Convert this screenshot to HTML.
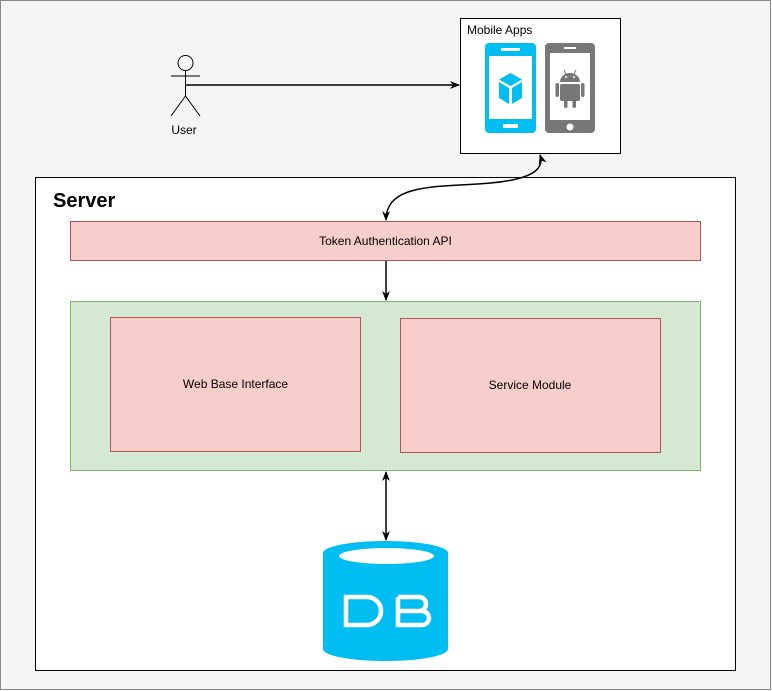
<!DOCTYPE html>
<html><head><style>body{margin:0}svg{display:block}text{font-family:"Liberation Sans",sans-serif}</style></head><body>
<svg width="772" height="691" viewBox="0 0 772 691" xmlns="http://www.w3.org/2000/svg">
<defs><marker id="a" markerWidth="10" markerHeight="8" refX="9" refY="4" orient="auto-start-reverse" markerUnits="userSpaceOnUse"><path d="M0,0 L10,4 L0,8 L3,4 Z" fill="#000"/></marker></defs>
<rect x="0.5" y="0.5" width="770" height="689" fill="#f4f4f4" stroke="#888"/>
<rect x="35.5" y="177.5" width="700" height="493" fill="#fff" stroke="#000"/>
<text x="53" y="207" font-size="20" font-weight="bold">Server</text>
<rect x="460.5" y="18.5" width="160" height="135" fill="#fff" stroke="#000"/>
<text x="467" y="34" font-size="12">Mobile Apps</text>
<rect x="485" y="43" width="51" height="90" rx="4" fill="#00bef2"/>
<rect x="489" y="56" width="43" height="63" fill="#fff"/>
<rect x="501" y="48" width="19" height="3" fill="#fff"/>
<rect x="503" y="124" width="15" height="4" fill="#fff"/>
<path d="M510.5,73 L522,79.5 L510.5,86 L499,79.5 Z" fill="#00bef2"/>
<path d="M499,82 L509,88 L509,104 L499,98 Z M512,88 L522,82 L522,98 L512,104 Z" fill="#00bef2"/>
<rect x="545" y="43" width="50" height="90" rx="4" fill="#777"/>
<rect x="550" y="53" width="40" height="67" fill="#fff"/>
<rect x="564" y="47" width="12" height="2" fill="#fff"/>
<circle cx="570" cy="127" r="3.5" fill="#fff"/>
<path d="M560,82 A10,9 0 0 1 580,82 Z" fill="#777"/>
<rect x="560" y="84" width="20" height="17" rx="2" fill="#777"/>
<rect x="555.5" y="83" width="3.5" height="14" rx="1.7" fill="#777"/>
<rect x="581" y="83" width="3.5" height="14" rx="1.7" fill="#777"/>
<rect x="564" y="99" width="3.5" height="9" rx="1.7" fill="#777"/>
<rect x="572.5" y="99" width="3.5" height="9" rx="1.7" fill="#777"/>
<line x1="564" y1="70" x2="566" y2="74" stroke="#777"/><line x1="576" y1="70" x2="574" y2="74" stroke="#777"/>
<circle cx="566" cy="77" r="1" fill="#fff"/><circle cx="574" cy="77" r="1" fill="#fff"/>
<g stroke="#000" fill="none"><circle cx="185.5" cy="63" r="7.5" fill="#fff"/><line x1="185.5" y1="70.5" x2="185.5" y2="96"/><line x1="171" y1="76" x2="200" y2="76"/><line x1="185.5" y1="96" x2="171" y2="116"/><line x1="185.5" y1="96" x2="200" y2="116"/></g>
<text x="184" y="134" font-size="12" text-anchor="middle">User</text>
<line x1="186" y1="85" x2="459" y2="85" stroke="#000" stroke-width="1.5" marker-end="url(#a)"/>
<path d="M540,155 C548,180 500,183 460,185 C420,187 386,190 386,220" fill="none" stroke="#000" stroke-width="1.5" marker-start="url(#a)" marker-end="url(#a)"/>
<rect x="70.5" y="221.5" width="630" height="39" fill="#f8cecc" stroke="#b85450"/>
<text x="385.5" y="245" font-size="12" text-anchor="middle">Token Authentication API</text>
<line x1="386" y1="261" x2="386" y2="300" stroke="#000" stroke-width="1.5" marker-end="url(#a)"/>
<rect x="70.5" y="301.5" width="630" height="169" fill="#d5e8d4" stroke="#82b366"/>
<rect x="110.5" y="317.5" width="250" height="134" fill="#f8cecc" stroke="#b85450"/>
<text x="235.5" y="388" font-size="12" text-anchor="middle">Web Base Interface</text>
<rect x="400.5" y="318.5" width="260" height="134" fill="#f8cecc" stroke="#b85450"/>
<text x="530" y="389" font-size="12" text-anchor="middle">Service Module</text>
<line x1="386" y1="472" x2="386" y2="540" stroke="#000" stroke-width="1.5" marker-start="url(#a)" marker-end="url(#a)"/>
<path d="M323,553 A62.5,12 0 0 1 448,553 L448,649 A62.5,12 0 0 1 323,649 Z" fill="#00bef2"/>
<ellipse cx="386.5" cy="556" rx="47.5" ry="8" fill="#fff"/>
<path d="M346,597 L367,597 A14,14 0 0 1 367,625 L346,625 Z" fill="none" stroke="#fff" stroke-width="4.5" stroke-linejoin="miter"/>
<path d="M398,597 L419,597 A7,7 0 0 1 419,611 L398,611 M419,611 L422,611 A7,7 0 0 1 422,625 L398,625 L398,597" fill="none" stroke="#fff" stroke-width="4.5"/>
</svg>
</body></html>
